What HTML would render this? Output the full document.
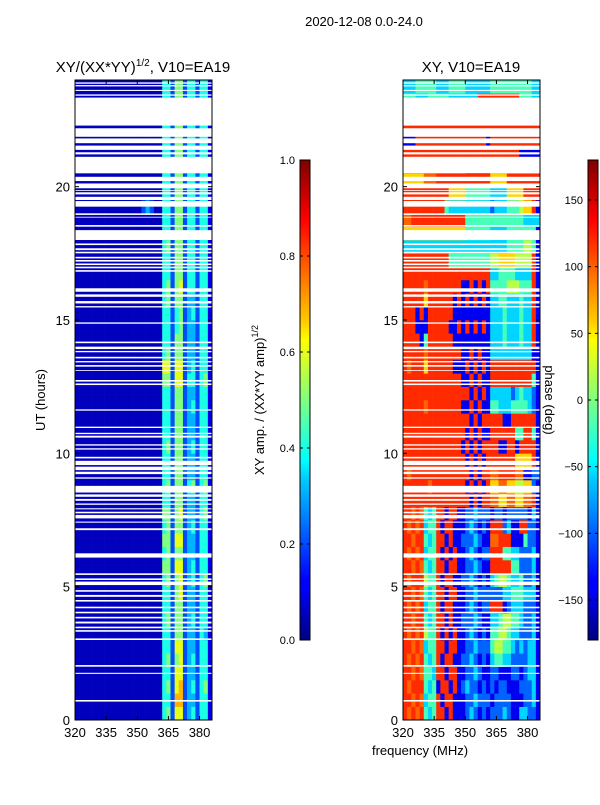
<!DOCTYPE html>
<html><head><meta charset="utf-8"><style>
body{margin:0;background:#fff;}
svg text{font-family:"Liberation Sans",sans-serif;fill:#000;}
</style></head><body>
<svg id="fig" width="600" height="800" xmlns="http://www.w3.org/2000/svg">
<defs>
<linearGradient id="jetv" x1="0" y1="1" x2="0" y2="0">
<stop offset="0" stop-color="#00007f"/><stop offset="0.11" stop-color="#0000ff"/><stop offset="0.125" stop-color="#0000ff"/>
<stop offset="0.34" stop-color="#00d0ff"/><stop offset="0.375" stop-color="#00ffff"/><stop offset="0.5" stop-color="#7fff7f"/>
<stop offset="0.625" stop-color="#ffff00"/><stop offset="0.66" stop-color="#ffd000"/><stop offset="0.875" stop-color="#ff0000"/><stop offset="1" stop-color="#7f0000"/>
</linearGradient>
</defs>
<text x="364" y="26" font-size="13" text-anchor="middle">2020-12-08 0.0-24.0</text>
<text x="143" y="72" font-size="15" text-anchor="middle">XY/(XX*YY)<tspan font-size="10" dy="-6">1/2</tspan><tspan dy="6">, V10=EA19</tspan></text>
<text x="471" y="72" font-size="15" text-anchor="middle">XY, V10=EA19</text>
<text transform="translate(45,400) rotate(-90)" font-size="13" text-anchor="middle">UT (hours)</text>
<text x="420" y="755" font-size="13" text-anchor="middle">frequency (MHz)</text>
<g id="left"></g>
<g id="right"></g>
<g id="cb1"></g>
<g id="cb2"></g>
<text transform="translate(264,400) rotate(-90)" font-size="13" text-anchor="middle">XY amp. / (XX*YY amp)<tspan font-size="9" dy="-6">1/2</tspan></text>
<text transform="translate(545,400) rotate(90)" font-size="13" text-anchor="middle">phase (deg)</text>
</svg>
<script>
// ---- data ----
const freqStart = 320, freqStep = 2, freqMax = 386;
const xTicks = [320,335,350,365,380];
const yTicks = [0,5,10,15,20];
const ampTicks = [0.0,0.2,0.4,0.6,0.8,1.0];
const phaseTicks = [-150,-100,-50,0,50,100,150];
// phase level code -> degrees
const phaseLevels = [-180,-140,-100,-60,-20,20,60,100,120,170];
// amplitude levels per 0.5 h row (bottom first), char n -> n/10 ('0' -> 0.06)
const ampRows = [
"000000000000000000000452662342441","000000000000000000000442772332441","000000000000000000000452672342451","000000000000000000000442662332441",
"000000000000000000000452562342441","000000000000000000000442662332441","000000000000000000000442552332431","000000000000000000000452552342441",
"000000000000000000000442552332441","000000000000000000000442562332441","000000000000000000000452562342451","000000000000000000000552662342441",
"000000000000000000000452552332441","000000000000000000000552662332441","000000000000000000000452552342441","000000000000000000000552562332451",
"000000000000000000000442552332441","000000000000000000000452552452451","000000000000000000000442552332441","000000000000000000000442552332441",
"000000000000000000000452552342441","000000000000000000000442552332441","000000000000000000000442552332441","000000000000000000000442552342441",
"000000000000000000000442552332441","000000000000000000000552662442451","000000000000000000000662662342441","000000000000000000000452552332441",
"000000000000000000000442552332441","000000000000000000000442452332441","000000000000000000000442452342441","000000000000000000000452552332441",
"000000000000000000000452562442441","000000000000000000000442552442441","000000000000000000000442552442441","000000000000000000000452552442441",
"000000000000000000000442552442441","000000000000000000000442552442441","000000000000000023200442552442441","000000000000000000000442552442441",
"000000000000000000000442552442441","000000000000000000000442552442441","000000000000000000000442552442441","000000000000000000000442552442441",
"000000000000000000000442552442441","000000000000000000000442552442441","000000000000000000000442552442441","000000000000000000000442552442441"];
// phase level codes per 0.5 h row (index into phaseLevels)
const phaseRows = [
"87878|434|88181|11|23212|1|222321133221","88787|344|81881|11|22322|2|122221112231","87888|434|18818|12|32212|1|212211122231","88787|443|88188|11|22321|1|221112212331",
"87878|434|81881|12|23212|1|344332222331","88787|344|88188|11|22322|2|455443232331","87878|544|81818|11|23212|1|445543322231","88788|434|88181|12|22321|1|334554432231",
"87878|344|81881|11|23212|2|888123332221","88787|434|88188|11|22322|2|222334443331","87888|544|81881|12|23212|1|345543342231","88787|434|88188|11|22321|1|888884422231",
"87878|344|81818|11|23212|2|888443322231","88788|434|88181|12|22321|1|778881114221","87878|344|81881|11|23212|1|888231188221","88787|434|88188|11|22322|2|122122222131",
"88888|888|88888|88|81818|8|776677667781","88888|878|88888|88|18181|8|667766556621","87888|888|88888|88|81818|8|778888771122","88888|888|88888|88|18181|8|888888666681",
"88888|888|88888|81|81818|8|881188188881","88888|888|88888|88|18181|1|888888448841","88888|888|88888|88|81818|8|888118888881","88888|788|88888|81|18181|1|443334444321",
"88888|888|88888|88|81818|1|333332343321","88888|888|88888|81|18181|1|888888888841","87888|688|88881|11|81818|1|888888888881","88888|788|88888|81|18181|1|333333333311",
"88881|488|88881|11|11111|1|333433343381","88811|188|88811|81|81818|1|333433343381","88818|188|88881|11|11111|1|333433343381","88888|688|88881|81|81818|1|334433343381",
"88888|788|88888|81|18181|8|444455544481","88888|888|88888|88|88888|8|334444333381","88888|888|88844|44|44444|4|556666555581","33333|333|33333|33|33333|3|333344445541",
"66666|666|66666|66|44444|4|333344444441","77888|888|88888|88|44444|4|444444443333","88888|888|88433|33|33333|3|233344456681","88888|888|88866|66|44444|4|333366668888",
"66666|777|88888|88|88888|8|666688888888","88888|888|88888|88|11111|1|333333333333","88888|888|88888|88|88888|8|888888811111","11188|888|88888|88|88888|1|888888888888",
"88888|888|88888|88|88888|8|888888888888","88888|888|88888|88|88888|8|888888888888","44433|344|44433|33|33388|8|888888844433","33344|444|33344|44|33333|3|444444444433"];
// flagged (blank) time ranges in hours
const flagStart = [23.86,23.76,23.59,23.41,22.29,21.87,21.63,21.38,21.21,20.5,20.21,19.94,19.84,19.71,19.5,19.25,18.94,18.84,18.5,18.0,17.81,17.62,17.5,17.31,17.19,17.06,16.94,16.81,16.06,15.87,15.62,15.47,14.86,14.13,13.91,13.79,13.56,13.41,13.25,13.09,12.69,12.56,11.6,10.95,10.72,10.59,10.29,10.14,9.81,9.56,9.37,9.22,9.05,8.53,8.37,8.22,8.07,7.9,7.75,7.56,7.4,7.12,6.09,5.44,5.25,5.06,4.81,4.62,4.44,4.19,4.0,3.81,3.62,3.44,3.31,3.0,2.0,1.73,0.69];
const flagEnd   = [23.91,23.81,23.63,23.46,23.34,22.19,21.81,21.54,21.29,21.12,20.37,20.12,19.87,19.79,19.62,19.46,19.0,18.87,18.56,18.37,17.87,17.69,17.56,17.37,17.25,17.12,17.0,16.87,16.19,15.96,15.71,15.52,14.91,14.19,14.0,13.84,13.62,13.46,13.31,13.12,12.75,12.62,11.65,11.0,10.77,10.66,10.34,10.19,9.87,9.72,9.5,9.31,9.1,8.78,8.46,8.29,8.12,7.94,7.81,7.69,7.44,7.19,6.25,5.5,5.31,5.19,4.87,4.69,4.5,4.25,4.06,3.87,3.69,3.5,3.37,3.06,2.06,1.77,0.75];

// ---- drawing ----
const NS="http://www.w3.org/2000/svg";
const TOP=80, BOT=720, W=137;
function yS(h){return BOT-(h/24)*(BOT-TOP);}
function xS(x0,f){return x0+(f-freqStart)/(freqMax-freqStart)*W;}
function jet(v){v=Math.max(0,Math.min(1,v));const c=t=>Math.round(255*Math.max(0,Math.min(1,1.5-Math.abs(4*v-t))));return `rgb(${c(3)},${c(2)},${c(1)})`;}
function mk(tag,attrs,parent){const e=document.createElementNS(NS,tag);for(const k in attrs)e.setAttribute(k,attrs[k]);parent.appendChild(e);return e;}
function panel(id,x0,rows,valFn){
  const g=document.getElementById(id);
  rows.forEach((s,r)=>{
    const str=s.replace(/\|/g,'');
    for(let c=0;c<str.length;c++){
      const f0=freqStart+c*freqStep, f1=Math.min(freqMax,f0+freqStep);
      const xa=xS(x0,f0), xb=xS(x0,f1), ya=yS(r*0.5+0.5), yb=yS(r*0.5);
      const rc=mk('rect',{x:xa.toFixed(2),y:ya.toFixed(2),width:(xb-xa+0.3).toFixed(2),height:(yb-ya+0.3).toFixed(2),fill:jet(valFn(str[c]))},g);
      
      
    }
  });
  flagStart.forEach((a,i)=>{
    const fr=mk('rect',{x:x0,y:yS(flagEnd[i]).toFixed(2),width:W,height:(yS(a)-yS(flagEnd[i])).toFixed(2),fill:'#fff'},g);
    
    
  });
  const fr=mk('rect',{x:x0,y:TOP,width:W,height:BOT-TOP,fill:'none',stroke:'#000','stroke-width':1},g);
  
  
  xTicks.forEach(t=>{
    const x=xS(x0,t);
    mk('line',{x1:x,x2:x,y1:BOT,y2:BOT-4,stroke:'#000'},g);
    mk('line',{x1:x,x2:x,y1:TOP,y2:TOP+4,stroke:'#000'},g);
    const tx=mk('text',{x:x,y:BOT+17,'font-size':13,'text-anchor':'middle'},g);tx.textContent=t;
    
    
  });
  yTicks.forEach(t=>{
    const y=yS(t);
    mk('line',{x1:x0,x2:x0+4,y1:y,y2:y,stroke:'#000'},g);
    mk('line',{x1:x0+W,x2:x0+W-4,y1:y,y2:y,stroke:'#000'},g);
    const tx=mk('text',{x:x0-5,y:y+5,'font-size':13,'text-anchor':'end'},g);tx.textContent=t;
    
    
  });
}
panel('left',75,ampRows,ch=>ch==='0'?0.06:(+ch)/10);
panel('right',403,phaseRows,ch=>(phaseLevels[+ch]+180)/360);
function cbar(id,x0,ticks,lo,hi,fmt){
  const g=document.getElementById(id);
  const b=mk('rect',{x:x0,y:160,width:10,height:480,fill:'url(#jetv)',stroke:'#000','stroke-width':1},g);
  
  
  ticks.forEach(t=>{
    const y=640-(t-lo)/(hi-lo)*480;
    mk('line',{x1:x0,x2:x0+3,y1:y,y2:y,stroke:'#000'},g);
    mk('line',{x1:x0+10,x2:x0+7,y1:y,y2:y,stroke:'#000'},g);
    const tx=mk('text',{x:x0-5,y:y+4,'font-size':11,'text-anchor':'end'},g);tx.textContent=fmt(t);
    
    
  });
}
cbar('cb1',300,ampTicks,0,1,t=>t.toFixed(1));
cbar('cb2',588,phaseTicks,-180,180,t=>String(t).replace('-','\u2212'));
</script>
</body></html>
